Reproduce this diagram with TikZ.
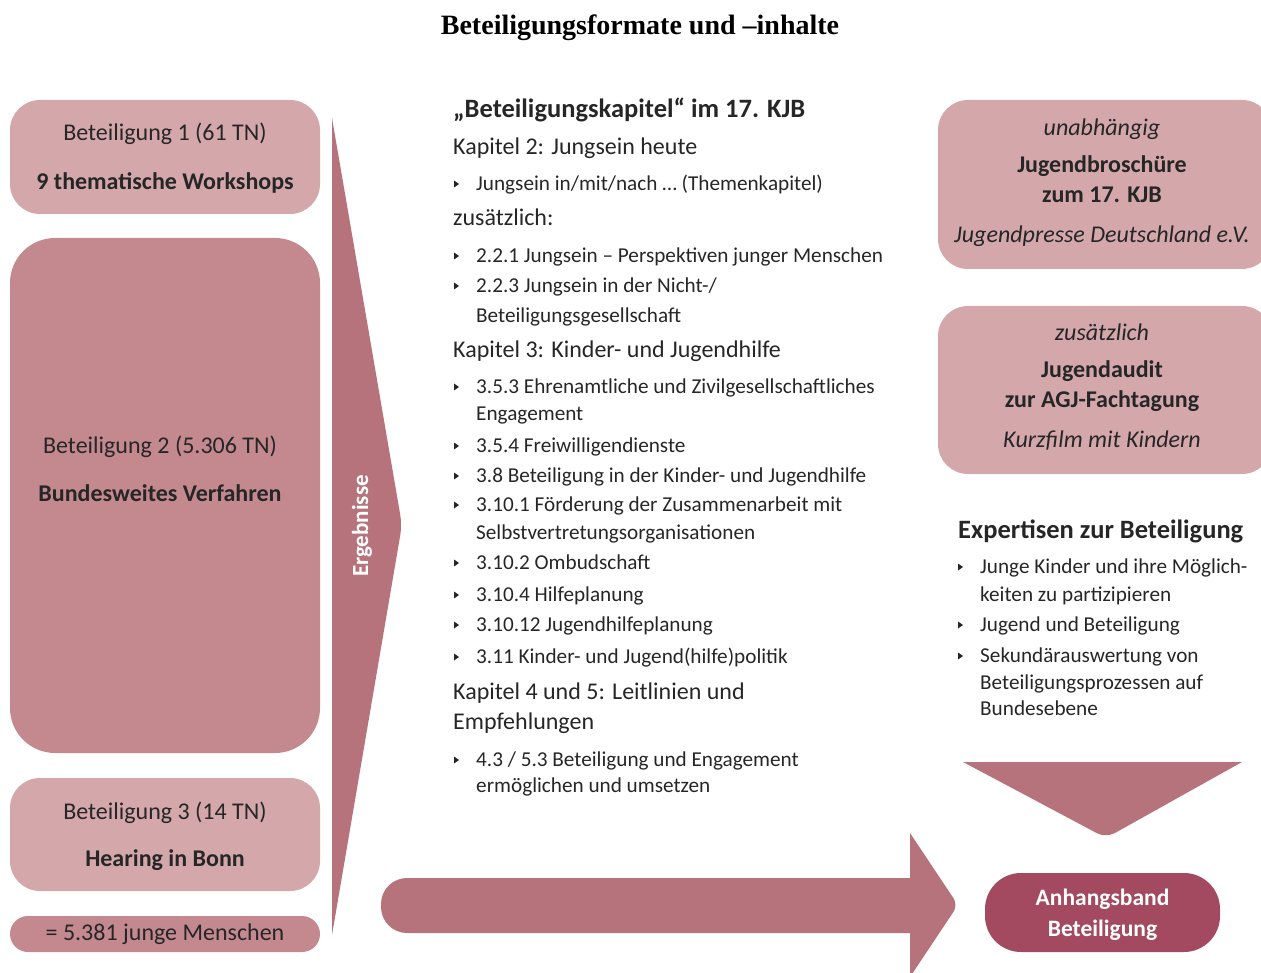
\documentclass[tikz,border=0pt]{standalone}
\usepackage{fontspec}
\setmainfont{Carlito}
\newfontfamily\titelfont{Liberation Serif}
\definecolor{hellrosa}{HTML}{D4A7AB}
\definecolor{mittelrosa}{HTML}{C4888F}
\definecolor{pfeilrosa}{HTML}{B7737C}
\definecolor{dunkelrot}{HTML}{A34A60}
\definecolor{textgrau}{HTML}{262626}
\tikzset{
  zeile/.style={anchor=west, inner sep=0pt, text height=1.3em, text depth=0em, text=textgrau},
  gross/.style={zeile, font=\fontsize{24}{28}\selectfont},
  fett/.style={zeile, font=\fontsize{26.5}{30}\selectfont\bfseries},
  klein/.style={zeile, font=\fontsize{21.2}{25}\selectfont},
  mitte/.style={inner sep=0pt, text height=1.3em, text depth=0em, text=textgrau, font=\fontsize{24}{28}\selectfont},
  kasten/.style={inner sep=0pt, rounded corners=30pt},
  punkt/.pic={\fill[textgrau] (0,-3.5) -- (5,0) -- (0,3.5) -- cycle;}
}
\begin{document}
\begin{tikzpicture}[x=1pt, y=-1pt]
\useasboundingbox (0,0) rectangle (1261,973);
\clip (0,0) rectangle (1261,973);

%Titel
\node[font=\titelfont\bfseries\fontsize{28}{32}\selectfont] (titel) at (640,28) {Beteiligungsformate und –inhalte};

%Beteiligungen links
\node[kasten, fill=hellrosa, minimum width=310, minimum height=114] (B1) at (165,157) {};
\node[mitte] (b1a) at (165,134) {Beteiligung 1 (61 TN)};
\node[mitte, font=\fontsize{24}{28}\selectfont\bfseries] (b1b) at (165,183) {9 thematische Workshops};

\node[kasten, fill=mittelrosa, rounded corners=45pt, minimum width=310, minimum height=515] (B2) at (165,495.5) {};
\node[mitte] (b2a) at (160,447) {Beteiligung 2 (5.306 TN)};
\node[mitte, font=\fontsize{24}{28}\selectfont\bfseries] (b2b) at (160,495) {Bundesweites Verfahren};

\node[kasten, fill=hellrosa, minimum width=310, minimum height=113] (B3) at (165,834.5) {};
\node[mitte] (b3a) at (165,813) {Beteiligung 3 (14 TN)};
\node[mitte, font=\fontsize{24}{28}\selectfont\bfseries] (b3b) at (165,860) {Hearing in Bonn};

\node[kasten, fill=mittelrosa, rounded corners=18pt, minimum width=310, minimum height=36] (B4) at (165,934) {};
\node[mitte] (b4) at (165,934) {= 5.381 junge Menschen};

%Ergebnisse
\coordinate (E1) at (332,118);
\coordinate (E2) at (402,525);
\coordinate (E3) at (332,935);
\fill[pfeilrosa] (E1) [rounded corners=10pt] -- (E2) [sharp corners] -- (E3) -- cycle;
\node[rotate=90, text=white, inner sep=0pt, font=\fontsize{23}{27}\selectfont\bfseries] (erg) at (362,526) {Ergebnisse};

%Beteiligungskapitel
\node[fett] (k0) at (453,111) {„Beteiligungskapitel“ im 17. KJB};
\node[gross] (k2) at (453,148) {Kapitel 2: Jungsein heute};
\pic at (454,184) {punkt};
\node[klein] (k2a) at (476,184) {Jungsein in/mit/nach … (Themenkapitel)};
\node[gross] (zus) at (453,219) {zusätzlich:};
\pic at (454,256) {punkt};
\node[klein] (k2b) at (476,256) {2.2.1 Jungsein – Perspektiven junger Menschen};
\pic at (454,286) {punkt};
\node[klein] (k2c) at (476,286) {2.2.3 Jungsein in der Nicht-/};
\node[klein] (k2d) at (476,316) {Beteiligungsgesellschaft};
\node[gross] (k3) at (453,351) {Kapitel 3: Kinder- und Jugendhilfe};
\pic at (454,387) {punkt};
\node[klein] (k3a) at (476,387) {3.5.3 Ehrenamtliche und Zivilgesellschaftliches};
\node[klein] (k3b) at (476,414) {Engagement};
\pic at (454,446) {punkt};
\node[klein] (k3c) at (476,446) {3.5.4 Freiwilligendienste};
\pic at (454,476) {punkt};
\node[klein] (k3d) at (476,476) {3.8 Beteiligung in der Kinder- und Jugendhilfe};
\pic at (454,505) {punkt};
\node[klein] (k3e) at (476,505) {3.10.1 Förderung der Zusammenarbeit mit};
\node[klein] (k3f) at (476,533) {Selbstvertretungsorganisationen};
\pic at (454,563) {punkt};
\node[klein] (k3g) at (476,563) {3.10.2 Ombudschaft};
\pic at (454,595) {punkt};
\node[klein] (k3h) at (476,595) {3.10.4 Hilfeplanung};
\pic at (454,625) {punkt};
\node[klein] (k3i) at (476,625) {3.10.12 Jugendhilfeplanung};
\pic at (454,657) {punkt};
\node[klein] (k3j) at (476,657) {3.11 Kinder- und Jugend(hilfe)politik};
\node[gross] (k4) at (453,693) {Kapitel 4 und 5: Leitlinien und};
\node[gross] (k4b) at (453,723) {Empfehlungen};
\pic at (454,760) {punkt};
\node[klein] (k4c) at (476,760) {4.3 / 5.3 Beteiligung und Engagement};
\node[klein] (k4d) at (476,786) {ermöglichen und umsetzen};

%Kaesten rechts
\node[kasten, fill=hellrosa, minimum width=334, minimum height=169] (R1) at (1105,184.5) {};
\node[mitte, font=\fontsize{24}{28}\selectfont\itshape] (r1a) at (1102,129) {unabhängig};
\node[mitte, font=\fontsize{24}{28}\selectfont\bfseries] (r1b) at (1102,166) {Jugendbroschüre};
\node[mitte, font=\fontsize{24}{28}\selectfont\bfseries] (r1c) at (1102,196) {zum 17. KJB};
\node[mitte, font=\fontsize{24}{28}\selectfont\itshape] (r1d) at (1102,236) {Jugendpresse Deutschland e.V.};

\node[kasten, fill=hellrosa, minimum width=334, minimum height=168] (R2) at (1105,390) {};
\node[mitte, font=\fontsize{24}{28}\selectfont\itshape] (r2a) at (1102,334) {zusätzlich};
\node[mitte, font=\fontsize{24}{28}\selectfont\bfseries] (r2b) at (1102,371) {Jugendaudit};
\node[mitte, font=\fontsize{24}{28}\selectfont\bfseries] (r2c) at (1102,401) {zur AGJ-Fachtagung};
\node[mitte, font=\fontsize{24}{28}\selectfont\itshape] (r2d) at (1102,441) {Kurzfilm mit Kindern};

%Expertisen
\node[fett] (ex) at (958,532) {Expertisen zur Beteiligung};
\pic at (958,567) {punkt};
\node[klein] (ex1) at (980,567) {Junge Kinder und ihre Möglich-};
\node[klein] (ex2) at (980,595) {keiten zu partizipieren};
\pic at (958,625) {punkt};
\node[klein] (ex3) at (980,625) {Jugend und Beteiligung};
\pic at (958,656) {punkt};
\node[klein] (ex4) at (980,656) {Sekundärauswertung von};
\node[klein] (ex5) at (980,683) {Beteiligungsprozessen auf};
\node[klein] (ex6) at (980,709) {Bundesebene};

%Pfeil nach unten
\coordinate (D1) at (963,762);
\coordinate (D2) at (1242,762);
\coordinate (D3) at (1106,838);
\fill[pfeilrosa] (D1) -- (D2) [rounded corners=10pt] -- (D3) [sharp corners] -- cycle;

%Pfeil nach rechts
\coordinate (P1) at (381,878);
\coordinate (P2) at (910,878);
\coordinate (P3) at (910,833);
\coordinate (P4) at (958,905);
\coordinate (P5) at (910,977);
\coordinate (P6) at (910,933);
\coordinate (P7) at (381,933);
\fill[pfeilrosa] (P2) -- (P3) [rounded corners=8pt] -- (P4) [sharp corners] -- (P5) -- (P6) [rounded corners=26pt] -- (P7) -- (P1) [sharp corners] -- cycle;

%Anhangsband
\node[kasten, fill=dunkelrot, rounded corners=36pt, minimum width=235, minimum height=79] (anh) at (1102.5,912.5) {};
\node[text=white, inner sep=0pt, align=center, font=\fontsize{23.5}{31}\selectfont\bfseries] (anht) at (1102.5,915) {Anhangsband\\Beteiligung};
\end{tikzpicture}
\end{document}
